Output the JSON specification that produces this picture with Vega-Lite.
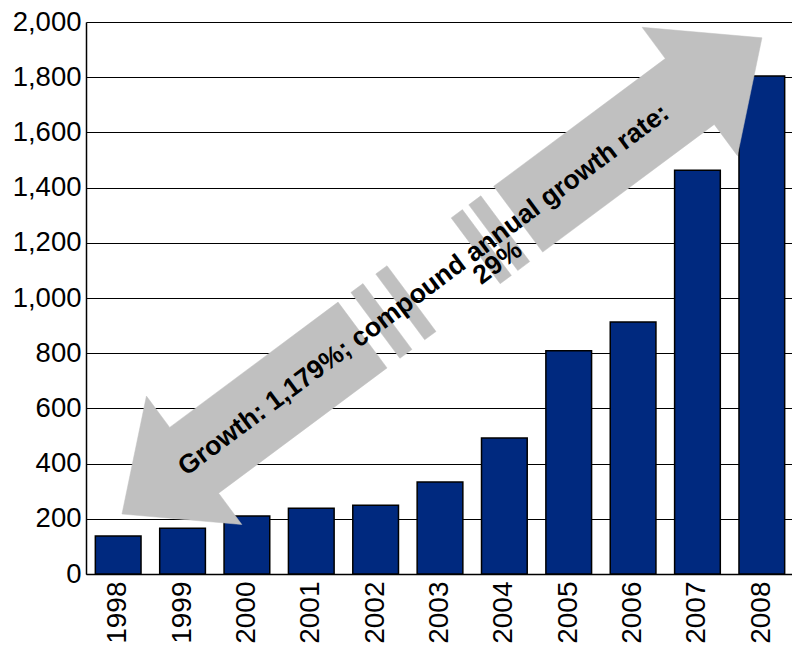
{
  "$schema": "https://vega.github.io/schema/vega-lite/v6.json",
  "autosize": "none",
  "width": 708,
  "height": 552,
  "padding": {"left": 86, "top": 22, "right": 0, "bottom": 73},
  "background": "white",
  "config": {
    "view": {"stroke": null},
    "font": "Liberation Sans",
    "axis": {"labelFont": "Liberation Sans", "labelColor": "black"}
  },
  "datasets": {
    "bars": [
      {"year": "1998", "value": 138},
      {"year": "1999", "value": 166},
      {"year": "2000", "value": 210},
      {"year": "2001", "value": 238},
      {"year": "2002", "value": 249},
      {"year": "2003", "value": 333},
      {"year": "2004", "value": 493},
      {"year": "2005", "value": 809},
      {"year": "2006", "value": 913},
      {"year": "2007", "value": 1463},
      {"year": "2008", "value": 1804}
    ],
    "arrow": [
      {"piece": "lower", "i": 1, "xi": 0.559, "yv": 217.4},
      {"piece": "lower", "i": 2, "xi": 0.939, "yv": 644.6},
      {"piece": "lower", "i": 3, "xi": 1.300, "yv": 531.2},
      {"piece": "lower", "i": 4, "xi": 3.916, "yv": 985.1},
      {"piece": "lower", "i": 5, "xi": 4.677, "yv": 746.7},
      {"piece": "lower", "i": 6, "xi": 2.061, "yv": 292.8},
      {"piece": "lower", "i": 7, "xi": 2.421, "yv": 179.3},
      {"piece": "upper", "i": 1, "xi": 6.334, "yv": 1404.7},
      {"piece": "upper", "i": 2, "xi": 9.000, "yv": 1867.4},
      {"piece": "upper", "i": 3, "xi": 8.640, "yv": 1980.8},
      {"piece": "upper", "i": 4, "xi": 10.502, "yv": 1942.8},
      {"piece": "upper", "i": 5, "xi": 10.121, "yv": 1515.6},
      {"piece": "upper", "i": 6, "xi": 9.761, "yv": 1629.0},
      {"piece": "upper", "i": 7, "xi": 7.095, "yv": 1166.3},
      {"piece": "s1", "i": 1, "xi": 4.116, "yv": 1019.9},
      {"piece": "s1", "i": 2, "xi": 4.303, "yv": 1052.2},
      {"piece": "s1", "i": 3, "xi": 5.064, "yv": 813.8},
      {"piece": "s1", "i": 4, "xi": 4.877, "yv": 781.5},
      {"piece": "s2", "i": 1, "xi": 4.502, "yv": 1087.0},
      {"piece": "s2", "i": 2, "xi": 4.677, "yv": 1117.0},
      {"piece": "s2", "i": 3, "xi": 5.438, "yv": 878.6},
      {"piece": "s2", "i": 4, "xi": 5.262, "yv": 848.6},
      {"piece": "s3", "i": 1, "xi": 5.674, "yv": 1290.2},
      {"piece": "s3", "i": 2, "xi": 5.848, "yv": 1320.3},
      {"piece": "s3", "i": 3, "xi": 6.609, "yv": 1081.9},
      {"piece": "s3", "i": 4, "xi": 6.435, "yv": 1051.8},
      {"piece": "s4", "i": 1, "xi": 5.947, "yv": 1337.7},
      {"piece": "s4", "i": 2, "xi": 6.134, "yv": 1370.3},
      {"piece": "s4", "i": 3, "xi": 6.894, "yv": 1131.9},
      {"piece": "s4", "i": 4, "xi": 6.708, "yv": 1099.3}
    ],
    "notes": [
      {"label": "Growth: 1,179%; compound annual growth rate:", "xi": 5.248, "yv": 1029},
      {"label": "29%", "xi": 6.398, "yv": 1127}
    ]
  },
  "layer": [
    {
      "data": {"name": "bars"},
      "mark": {"type": "bar", "fill": "#00297f", "stroke": "black", "strokeWidth": 1.5},
      "encoding": {
        "x": {
          "field": "year", "type": "ordinal",
          "scale": {"paddingInner": 0.29, "paddingOuter": 0.145},
          "axis": {
            "title": null, "labelAngle": -90, "labelFontSize": 28, "labelPadding": 7,
            "ticks": false, "domainColor": "black", "domainWidth": 1.5
          }
        },
        "y": {
          "field": "value", "type": "quantitative",
          "scale": {"domain": [0, 2000], "nice": false},
          "axis": {
            "title": null, "values": [0, 200, 400, 600, 800, 1000, 1200, 1400, 1600, 1800, 2000],
            "format": ",d", "labelFontSize": 27.5, "labelPadding": 5, "ticks": false,
            "domainColor": "black", "domainWidth": 1.5,
            "grid": true, "gridColor": "black", "gridOpacity": 1, "gridWidth": 1.2
          }
        }
      }
    },
    {
      "data": {"name": "arrow"},
      "mark": {"type": "line", "interpolate": "linear-closed", "fill": "#c0c0c0", "stroke": "#c0c0c0", "strokeWidth": 0.5},
      "encoding": {
        "x": {"field": "xi", "type": "quantitative", "scale": {"domain": [0, 11], "nice": false, "zero": false}, "axis": null},
        "y": {"field": "yv", "type": "quantitative"},
        "detail": {"field": "piece"},
        "order": {"field": "i", "type": "quantitative"}
      }
    },
    {
      "data": {"name": "notes"},
      "mark": {"type": "text", "angle": 323.4, "fontSize": 26.5, "fontWeight": "bold", "font": "Liberation Sans", "color": "black", "align": "center", "baseline": "middle"},
      "encoding": {
        "x": {"field": "xi", "type": "quantitative", "scale": {"domain": [0, 11], "nice": false, "zero": false}, "axis": null},
        "y": {"field": "yv", "type": "quantitative"},
        "text": {"field": "label"}
      }
    }
  ],
  "resolve": {"scale": {"x": "independent"}}
}
